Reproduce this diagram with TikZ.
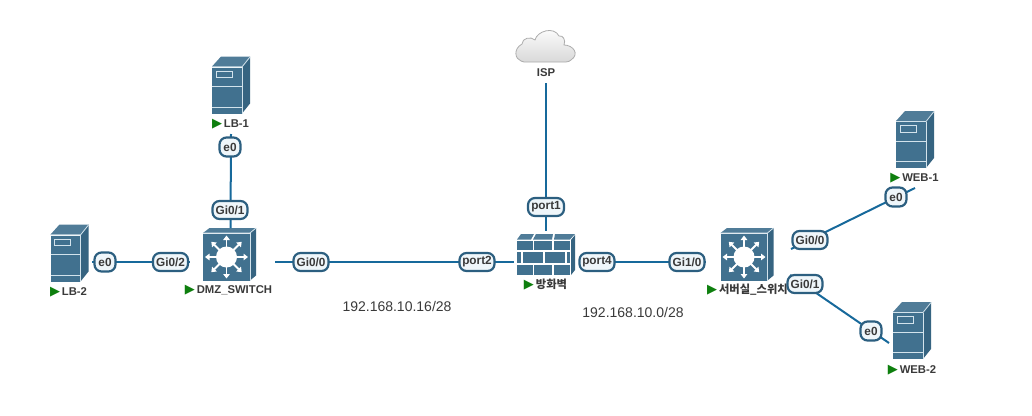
\documentclass[tikz,border=0pt]{standalone}
\usepackage{fontspec}
\setmainfont{Liberation Sans}
\newfontfamily\krfont{Noto Sans CJK KR}
\newfontfamily\symfont{DejaVu Sans}
\usepackage{tikz}
\usetikzlibrary{arrows.meta,positioning,calc}
\definecolor{iconfront}{HTML}{41718F}
\definecolor{iconside}{HTML}{366481}
\definecolor{iconedge}{HTML}{D3E3EC}
\definecolor{linkblue}{HTML}{17699B}
\definecolor{portedge}{HTML}{2C5F80}
\definecolor{portfill}{HTML}{EFF6FA}
\definecolor{runok}{HTML}{0E7F0E}
\definecolor{labelgray}{HTML}{3A3A3A}
\newcommand{\runmark}{\textcolor{runok}{\fontsize{13}{13}\selectfont\symfont\char"25B6}\,}
\tikzset{
  x=1pt,y=-1pt,
  server/.pic={
    \fill[iconside] (11,-19) -- (19,-29) -- (19,18) -- (11,28) -- cycle;
    \fill[iconfront!92!white] (-19,-19) -- (-10,-29) -- (19,-29) -- (11,-19) -- cycle;
    \fill[iconfront] (-19,-18) rectangle (11,28);
    \draw[iconedge,line width=0.8pt] (-19,-18.5) -- (11,-18.5) -- (19,-28.5);
    \draw[iconedge,line width=0.8pt] (11,-18.5) -- (11,28);
    \draw[iconedge,line width=0.8pt] (-19,1) -- (11,1);
    \draw[iconedge,line width=0.8pt] (-19,21.5) -- (11,21.5);
    \draw[iconedge,line width=0.8pt] (-15,-14.5) rectangle (1,-8);
  },
  l3switch/.pic={
    \fill[iconside] (20.5,-21.5) -- (26.5,-26.5) -- (26.5,21) -- (20.5,26) -- cycle;
    \fill[iconfront!92!white] (-26.5,-21.5) -- (-20,-26.5) -- (26.5,-26.5) -- (20.5,-21.5) -- cycle;
    \fill[iconfront] (-26.5,-21) rectangle (20.5,26);
    \draw[iconedge,line width=0.8pt] (-26.5,-21.5) -- (20.5,-21.5) -- (26.5,-26.5);
    \draw[iconedge,line width=0.8pt] (20.5,-21.5) -- (20.5,26);
    \fill[white] (-3,2.5) circle (10.5);
    \foreach \ang in {0,45,...,315}
      \draw[white,line width=1.8pt,-{Triangle[length=4.5pt,width=6.5pt]}]
        ($(-3,2.5)+(\ang:9)$) -- ($(-3,2.5)+(\ang:21.5)$);
  },
  firewall/.pic={
    % top course
    \fill[iconfront!92!white] (-29,-14.5) -- (-25,-20) -- (-12,-20) -- (-15,-14.5) -- cycle;
    \fill[iconfront!92!white] (-13,-14.5) -- (-10,-20) -- (7,-20) -- (6,-14.5) -- cycle;
    \fill[iconfront!92!white] (8,-14.5) -- (9,-20) -- (29,-20) -- (24,-14.5) -- cycle;
    % side
    \fill[iconside] (25,-14) -- (29,-19) -- (29,16) -- (25,21) -- cycle;
    % bricks
    \fill[iconfront] (-29,-13.5) rectangle (-13,-4);
    \fill[iconfront] (-12,-13.5) rectangle (6,-4);
    \fill[iconfront] (8,-13.5) rectangle (24,-4);
    \fill[iconfront] (-29,-2.5) rectangle (-25,9);
    \fill[iconfront] (-23,-2.5) rectangle (-3,9);
    \fill[iconfront] (-1,-2.5) rectangle (19,9);
    \fill[iconfront] (21,-2.5) rectangle (24,9);
    \fill[iconfront] (-29,10.5) rectangle (-13,21);
    \fill[iconfront] (-12,10.5) rectangle (6,21);
    \fill[iconfront] (8,10.5) rectangle (24,21);
  },
  wan/.pic={
    \draw[gray!65,line width=0.8pt,top color=white,bottom color=gray!30]
      (-25,15) .. controls (-31,13) and (-33,3) .. (-24,-2)
      .. controls (-24,-8) and (-15,-10) .. (-11,-6)
      .. controls (-9,-15) and (8,-20) .. (13,-10)
      .. controls (17,-11) and (20,-6) .. (18,-1)
      .. controls (27,-1) and (34,8) .. (25,14)
      .. controls (24,15) and (22,16) .. (20,16)
      -- (-22,16) .. controls (-23,16) and (-24,16) .. (-25,15) -- cycle;
  },
  devlabel/.style={font=\fontsize{11.3}{12}\selectfont\bfseries,text=labelgray,inner sep=0pt},
  link/.style={draw=linkblue,line width=2pt},
  port/.style={draw=portedge,fill=portfill,line width=2.2pt,rounded corners=7pt,
    font=\fontsize{11.8}{12}\selectfont\bfseries,text=labelgray,inner sep=0pt,
    minimum height=18pt,minimum width=35pt},
  shortport/.style={port,minimum width=21pt,minimum height=19pt},
  longport/.style={port,minimum width=36pt},
  subnet/.style={font=\fontsize{14}{16}\selectfont,text=labelgray,inner sep=0pt}
}
\begin{document}
\begin{tikzpicture}
\useasboundingbox (0,0) rectangle (1032,415);
% devices
\pic at (231,85.5) {server};
\pic at (69.5,253.5) {server};
\pic at (915,140) {server};
\pic at (912,331) {server};
\pic at (229.5,254.5) {l3switch};
\pic at (747,254.5) {l3switch};
\pic at (546,254) {firewall};
\pic at (546,46) {wan};
% device names
\node[devlabel] (lb1) at (230.5,124) {\runmark LB-1};
\node[devlabel] (lb2) at (68.5,292) {\runmark LB-2};
\node[devlabel] (dmz) at (228.5,290) {\runmark DMZ\_SWITCH};
\node[devlabel] (fw) at (545.5,285) {\runmark{\krfont 방화벽}};
\node[devlabel] (isp) at (546,73) {ISP};
\node[devlabel] (web1) at (914.5,178) {\runmark WEB-1};
\node[devlabel] (web2) at (912,370) {\runmark WEB-2};
\node[devlabel] (srv) at (747.5,290) {\runmark{\krfont 서버실\_스위치}};
% link ends
\coordinate (lb1e) at (231,134);
\coordinate (dmzn) at (230.5,228);
\coordinate (lb2e) at (92,262);
\coordinate (dmzw) at (190,262);
\coordinate (dmze) at (275,262);
\coordinate (fww) at (514,262);
\coordinate (ispe) at (546,83);
\coordinate (fwn) at (546,231);
\coordinate (fwe) at (579,262);
\coordinate (srvw) at (706,262);
\coordinate (srvne) at (791,249);
\coordinate (web1e) at (915,188);
\coordinate (srvse) at (790,275);
\coordinate (web2e) at (889,343);
% links
\draw[link] (lb1e) -- (dmzn);
\draw[link] (lb2e) -- (dmzw);
\draw[link] (dmze) -- (fww);
\draw[link] (ispe) -- (fwn);
\draw[link] (fwe) -- (srvw);
\draw[link] (srvne) -- (web1e);
\draw[link] (srvse) -- (web2e);
% ports
\node[shortport] (lb1p) at (230,147) {e0};
\node[port] (dmzp1) at (230,210) {Gi0/1};
\node[shortport] (lb2p) at (105,262) {e0};
\node[port] (dmzp2) at (170.5,262) {Gi0/2};
\node[port] (dmzp0) at (311,262) {Gi0/0};
\node[port] (fwp2) at (477,262) {port2};
\node[longport] (fwp1) at (546,207) {port1};
\node[port] (fwp4) at (597,262) {port4};
\node[port] (srvp10) at (687,262) {Gi1/0};
\node[port] (srvp0) at (810,240) {Gi0/0};
\node[shortport] (web1p) at (896,197) {e0};
\node[port] (srvp1) at (805,284) {Gi0/1};
\node[shortport] (web2p) at (871,331) {e0};
% subnets
\node[subnet] (dmznet) at (397,306) {192.168.10.16/28};
\node[subnet] (srvnet) at (633,312) {192.168.10.0/28};
\end{tikzpicture}
\end{document}
